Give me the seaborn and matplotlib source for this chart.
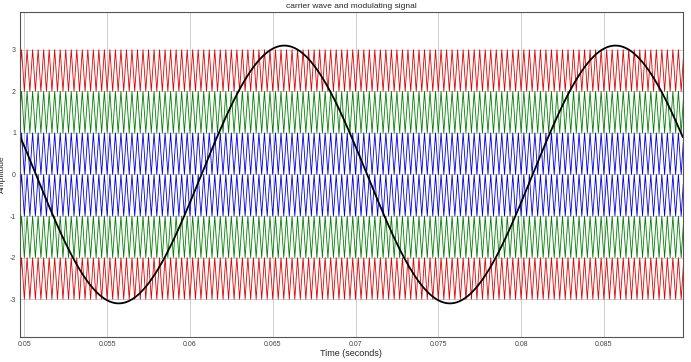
import numpy as np
import pandas as pd
import seaborn as sns
import matplotlib.pyplot as plt

# values
t_start, t_end = 0.04974, 0.08976
carrier_freq = 3000          # Hz
carrier_bands = [(2, 3), (1, 2), (0, 1), (-1, 0), (-2, -1), (-3, -2)]
carrier_colors = ["#e00000", "#008000", "#0000e0", "#0000e0", "#008000", "#e00000"]
mod_freq = 50                # Hz
mod_amp = 3.1
mod_delay = 0.0007           # s
x_ticks = [0.05, 0.055, 0.06, 0.065, 0.07, 0.075, 0.08, 0.085]
y_ticks = [-3, -2, -1, 0, 1, 2, 3]

sns.set_style("ticks")
plt.rcParams["font.family"] = ["Liberation Sans", "DejaVu Sans"]
plt.rcParams["axes.unicode_minus"] = False

fig, ax = plt.subplots(figsize=(6.91, 3.62), dpi=100)
fig.subplots_adjust(left=0.029, right=0.988, top=0.966, bottom=0.07)

# triangular carriers: vertices every half period
half = 1 / (2 * carrier_freq)
k = np.arange(np.floor(t_start / half) - 1, np.ceil(t_end / half) + 2)
tv = k * half
for (lo, hi), col in zip(carrier_bands, carrier_colors):
    vals = np.where(k % 2 == 0, lo, hi)
    df = pd.DataFrame({"t": tv, "v": vals})
    sns.lineplot(data=df, x="t", y="v", color=col, lw=0.6, ax=ax,
                 estimator=None, sort=False)

# modulating signal
t = np.linspace(t_start - 0.001, t_end + 0.001, 3000)
mod = pd.DataFrame({"t": t, "v": mod_amp * np.sin(2 * np.pi * mod_freq * (t - mod_delay))})
sns.lineplot(data=mod, x="t", y="v", color="black", lw=1.3, ax=ax, estimator=None)

ax.set_xlim(t_start, t_end)
ax.set_ylim(-3.9, 3.9)
ax.set_xticks(x_ticks)
ax.set_xticklabels([f"{v:g}" for v in x_ticks])
ax.set_yticks(y_ticks)
ax.tick_params(labelsize=5, length=0, pad=3, colors="#444444")
ax.grid(True, color="#c8c8c8", lw=0.6)
ax.set_axisbelow(True)
for s in ax.spines.values():
    s.set_color("#555555")
    s.set_linewidth(0.8)
ax.set_title("carrier wave and modulating signal", fontsize=6, pad=3)
ax.set_xlabel("Time (seconds)", fontsize=6.5, labelpad=1)
ax.set_ylabel("Amplitude", fontsize=6)
ax.yaxis.set_label_coords(-0.021, 0.5)

fig.savefig("out.png", dpi=100)
